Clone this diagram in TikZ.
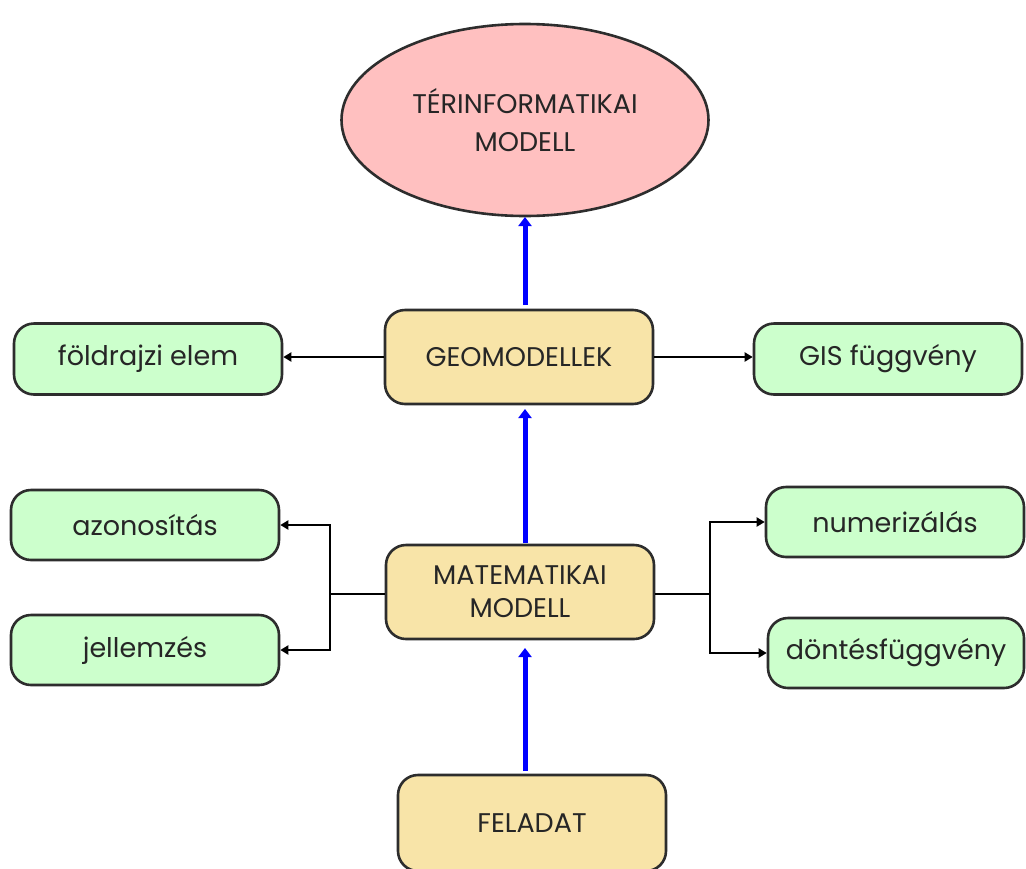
\documentclass[tikz,border=0pt]{standalone}
\usepackage{fontspec}
\setmainfont{Poppins}
\usetikzlibrary{arrows.meta,shapes.geometric}
\definecolor{pinkfill}{RGB}{255,192,192}
\definecolor{greenfill}{RGB}{204,255,204}
\definecolor{tanfill}{RGB}{248,228,168}
\definecolor{edgegray}{RGB}{45,45,45}
\begin{document}
\begin{tikzpicture}[x=1pt,y=-1pt,
  box/.style={draw=edgegray,line width=2.6pt,rounded corners=20pt,align=center,
    inner sep=0pt,text=black!85,font=\fontsize{27}{33}\selectfont},
  sidebox/.style={box,fill=greenfill,minimum width=268pt,minimum height=71pt},
  corebox/.style={box,fill=tanfill,minimum width=268pt,minimum height=94pt},
  uparrow/.style={draw=blue,line width=5pt,-{Triangle[length=9pt,width=13pt]}},
  link/.style={draw=black,line width=2pt,-{Triangle[length=8pt,width=9pt]}},
  plain/.style={draw=black,line width=2pt}]
\useasboundingbox (0,0) rectangle (1026,868);
\fill[white] (0,0) rectangle (1026,868);

% top ellipse
\node[ellipse,draw=edgegray,line width=2.6pt,fill=pinkfill,minimum width=367pt,
  minimum height=192pt,align=center,inner sep=0pt,text=black!85,
  font=\fontsize{27}{38}\selectfont]
  (tim) at (525,120) {TÉRINFORMATIKAI\\MODELL};

% central column
\node[corebox] (geo) at (519,357) {GEOMODELLEK};
\node[corebox] (mat) at (520,592) {MATEMATIKAI\\MODELL};
\node[corebox,minimum height=96pt] (fel) at (532,823) {FELADAT};

% side boxes
\node[sidebox] (fe) at (148,359) {földrajzi elem};
\node[sidebox] (gis) at (888,359) {GIS függvény};
\node[sidebox,minimum height=70pt] (azo) at (145,525) {azonosítás};
\node[sidebox,minimum height=70pt] (jel) at (145,650) {jellemzés};
\node[sidebox,minimum width=258pt,minimum height=70pt] (num) at (895,522) {numerizálás};
\node[sidebox,minimum width=256pt,minimum height=70pt] (don) at (896,653) {döntésfüggvény};

% blue flow arrows
\coordinate (a1s) at (525,771);
\coordinate (a1e) at (525,648);
\coordinate (a2s) at (525,543);
\coordinate (a2e) at (525,409);
\coordinate (a3s) at (525,305);
\coordinate (a3e) at (525,217);
\draw[uparrow] (a1s) -- (a1e);
\draw[uparrow] (a2s) -- (a2e);
\draw[uparrow] (a3s) -- (a3e);

% GEOMODELLEK links
\draw[link] (geo.west) -- (geo.west -| fe.east);
\draw[link] (geo.east) -- (geo.east -| gis.west);

% MATEMATIKAI MODELL links
\coordinate (lj) at (330,594);
\coordinate (rj) at (710,594);
\draw[plain] (mat.west |- lj) -- (lj);
\draw[link] (lj) |- (azo.east);
\draw[link] (lj) |- (jel.east);
\draw[plain] (mat.east |- rj) -- (rj);
\draw[link] (rj) |- (num.west);
\draw[link] (rj) |- (don.west);
\end{tikzpicture}
\end{document}
